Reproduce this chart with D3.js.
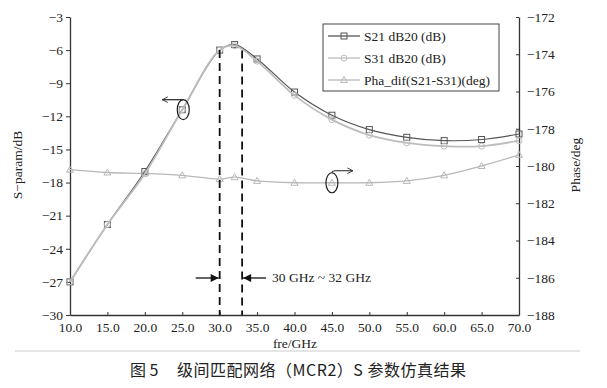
<!DOCTYPE html>
<html>
<head>
<meta charset="utf-8">
<script src="https://cdn.jsdelivr.net/npm/d3@7"></script>
<style>
body { margin: 0; background: #fff; }
svg text { font-family: "Liberation Serif", "Times New Roman", serif; }
</style>
</head>
<body>
<div id="chart"></div>
<script>
// data
var freq = [10, 15, 20, 25, 30, 32, 35, 40, 45, 50, 55, 60, 65, 70];
var s21 = [-27.0, -21.8, -17.0, -11.4, -6.0, -5.5, -6.8, -9.8, -11.9, -13.2, -13.9, -14.2, -14.1, -13.6];
var s31 = [-27.0, -21.8, -17.2, -11.4, -6.0, -5.6, -7.0, -10.1, -12.3, -13.7, -14.4, -14.7, -14.7, -14.2];
var phase = [-180.2, -180.35, -180.4, -180.5, -180.7, -180.6, -180.8, -180.9, -180.9, -180.9, -180.8, -180.5, -180.0, -179.4];
var xTicks = [10, 15, 20, 25, 30, 35, 40, 45, 50, 55, 60, 65, 70];
var yTicks = [-3, -6, -9, -12, -15, -18, -21, -24, -27, -30];
var pTicks = [-172, -174, -176, -178, -180, -182, -184, -186, -188];
var legendNames = ["S21 dB20 (dB)", "S31 dB20 (dB)", "Pha_dif(S21-S31)(deg)"];
var bandEdges = [30, 33];

var width = 607, height = 388;
var plot = { left: 70, right: 519, top: 17, bottom: 315 };

var svg = d3.select('#chart').append('svg').attr('width', width).attr('height', height);

var x = d3.scaleLinear().domain([10, 70]).range([plot.left, plot.right]);
var y = d3.scaleLinear().domain([-30, -3]).range([plot.bottom, plot.top]);
var yp = d3.scaleLinear().domain([-188, -172]).range([plot.bottom, plot.top]);

var fs = '13.5px';

// axes
var gx = svg.append('g').attr('transform', 'translate(0,' + plot.bottom + ')')
    .call(d3.axisBottom(x).tickValues(xTicks).tickFormat(d3.format('.1f')).tickSizeInner(-3).tickSizeOuter(0).tickPadding(7));
var gy = svg.append('g').attr('transform', 'translate(' + plot.left + ',0)')
    .call(d3.axisLeft(y).tickValues(yTicks).tickSizeInner(4).tickSizeOuter(0).tickPadding(3));
var gp = svg.append('g').attr('transform', 'translate(' + plot.right + ',0)')
    .call(d3.axisRight(yp).tickValues(pTicks).tickSizeInner(-3).tickSizeOuter(0).tickPadding(8));
[gx, gy, gp].forEach(function(g) {
    g.selectAll('path').attr('stroke', '#333').attr('stroke-width', 1.3);
    g.selectAll('line').attr('stroke', '#333');
    g.selectAll('text').style('font-size', fs).attr('fill', '#222')
        .style('font-family', '"Liberation Serif", serif');
});

// axis titles
svg.append('text').attr('transform', 'translate(22,165) rotate(-90)').attr('text-anchor', 'middle')
    .style('font-size', fs).attr('fill', '#222').text('S\u2212param/dB');
svg.append('text').attr('transform', 'translate(580,165) rotate(-90)').attr('text-anchor', 'middle')
    .style('font-size', fs).attr('fill', '#222').text('Phase/deg');
svg.append('text').attr('x', 295).attr('y', 348).attr('text-anchor', 'middle')
    .style('font-size', fs).attr('fill', '#222').text('fre/GHz');

// series
var lineS = d3.line().x(function(d, i) { return x(freq[i]); }).y(function(d) { return y(d); }).curve(d3.curveCatmullRom);
var lineP = d3.line().x(function(d, i) { return x(freq[i]); }).y(function(d) { return yp(d); }).curve(d3.curveCatmullRom);

var series = [
    { vals: phase, line: lineP, scale: yp, color: '#b8b8b8', shape: 'tri', w: 1.3 },
    { vals: s21, line: lineS, scale: y, color: '#555', shape: 'sq', w: 1.2 },
    { vals: s31, line: lineS, scale: y, color: '#bdbdbd', shape: 'circ', w: 1.8 }
];

function marker(g, shape, cx, cy, color) {
    if (shape == 'sq') {
        g.append('rect').attr('x', cx - 3).attr('y', cy - 3).attr('width', 6).attr('height', 6)
            .attr('fill', 'none').attr('stroke', color).attr('stroke-width', 1);
    } else if (shape == 'circ') {
        g.append('circle').attr('cx', cx).attr('cy', cy).attr('r', 3)
            .attr('fill', 'none').attr('stroke', color).attr('stroke-width', 1);
    } else {
        g.append('path').attr('d', 'M' + cx + ',' + (cy - 3.5) + 'L' + (cx + 3.5) + ',' + (cy + 2.5) + 'L' + (cx - 3.5) + ',' + (cy + 2.5) + 'Z')
            .attr('fill', 'none').attr('stroke', color).attr('stroke-width', 1);
    }
}

series.forEach(function(s) {
    svg.append('path').datum(s.vals).attr('d', s.line).attr('fill', 'none')
        .attr('stroke', s.color).attr('stroke-width', s.w);
    var mg = svg.append('g');
    s.vals.forEach(function(v, i) {
        marker(mg, s.shape, x(freq[i]), s.scale(v), s.color);
    });
});

// dashed band lines
bandEdges.forEach(function(f) {
    var i = freq.indexOf(f);
    var top = i >= 0 ? y(s21[i]) : y(d3.interpolateNumber(s21[5], s21[6])((f - 32) / 3)) + 1;
    svg.append('line').attr('x1', x(f)).attr('x2', x(f)).attr('y1', top).attr('y2', plot.bottom)
        .attr('stroke', '#111').attr('stroke-width', 1.8).attr('stroke-dasharray', '8,5');
});

// band arrows
var defs = svg.append('defs');
defs.append('marker').attr('id', 'tri').attr('viewBox', '0 0 10 10').attr('refX', 10).attr('refY', 5)
    .attr('markerWidth', 10).attr('markerHeight', 8).attr('markerUnits', 'userSpaceOnUse').attr('orient', 'auto')
    .append('path').attr('d', 'M0,0L10,5L0,10Z').attr('fill', '#111');
defs.append('marker').attr('id', 'open').attr('viewBox', '0 0 10 10').attr('refX', 9).attr('refY', 5)
    .attr('markerWidth', 7).attr('markerHeight', 7).attr('markerUnits', 'userSpaceOnUse').attr('orient', 'auto')
    .append('path').attr('d', 'M1,1L9,5L1,9').attr('fill', 'none').attr('stroke', '#222').attr('stroke-width', 1.2);

var ay = 278;
svg.append('line').attr('x1', x(bandEdges[0]) - 24).attr('x2', x(bandEdges[0]) - 1).attr('y1', ay).attr('y2', ay)
    .attr('stroke', '#111').attr('stroke-width', 1.3).attr('marker-end', 'url(#tri)');
svg.append('line').attr('x1', x(bandEdges[1]) + 24).attr('x2', x(bandEdges[1]) + 1).attr('y1', ay).attr('y2', ay)
    .attr('stroke', '#111').attr('stroke-width', 1.3).attr('marker-end', 'url(#tri)');
svg.append('text').attr('x', x(bandEdges[1]) + 30).attr('y', ay + 4).style('font-size', fs).attr('fill', '#222')
    .text('30 GHz ~ 32 GHz');

// ellipse annotations
var e1x = x(25) + 1, e1y = y(s21[3]);
svg.append('ellipse').attr('cx', e1x).attr('cy', e1y).attr('rx', 6).attr('ry', 10)
    .attr('fill', 'none').attr('stroke', '#222').attr('stroke-width', 1.2);
svg.append('line').attr('x1', e1x).attr('y1', e1y - 10).attr('x2', e1x - 21).attr('y2', e1y - 10)
    .attr('stroke', '#222').attr('stroke-width', 1.2).attr('marker-end', 'url(#open)');

var e2x = x(45), e2y = yp(phase[8]);
svg.append('ellipse').attr('cx', e2x).attr('cy', e2y).attr('rx', 6).attr('ry', 10)
    .attr('fill', 'none').attr('stroke', '#222').attr('stroke-width', 1.2);
svg.append('path').attr('d', 'M' + e2x + ',' + (e2y - 10) + 'Q' + e2x + ',' + (e2y - 12) + ' ' + (e2x + 4) + ',' + (e2y - 12) + 'L' + (e2x + 21) + ',' + (e2y - 12))
    .attr('fill', 'none').attr('stroke', '#222').attr('stroke-width', 1.2).attr('marker-end', 'url(#open)');

// legend
var lg = svg.append('g').attr('transform', 'translate(323,24)');
lg.append('rect').attr('width', 176).attr('height', 67).attr('fill', '#fff').attr('stroke', '#444').attr('stroke-width', 1);
var legSeries = [series[1], series[2], series[0]];
legendNames.forEach(function(name, i) {
    var ly = 12 + i * 22;
    var s = legSeries[i];
    lg.append('line').attr('x1', 5).attr('x2', 37).attr('y1', ly).attr('y2', ly).attr('stroke', s.color).attr('stroke-width', 1.3);
    marker(lg, s.shape, 21, ly, s.color);
    lg.append('text').attr('x', 41).attr('y', ly + 4.5).style('font-size', fs).attr('fill', '#222').text(name);
});

// separator and caption
svg.append('line').attr('x1', 15).attr('x2', 580).attr('y1', 351).attr('y2', 351).attr('stroke', '#ccc').attr('stroke-width', 1);
var capFont = '"Noto Sans CJK SC", sans-serif';
svg.append('text').attr('x', 130).attr('y', 376)
    .style('font-family', capFont).style('font-size', '16px').attr('fill', '#222')
    .text('图 5');
svg.append('text').attr('x', 177).attr('y', 376).attr('textLength', 289)
    .style('font-family', capFont).style('font-size', '16px').attr('fill', '#222')
    .text('级间匹配网络（MCR2）S 参数仿真结果');
</script>
</body>
</html>
